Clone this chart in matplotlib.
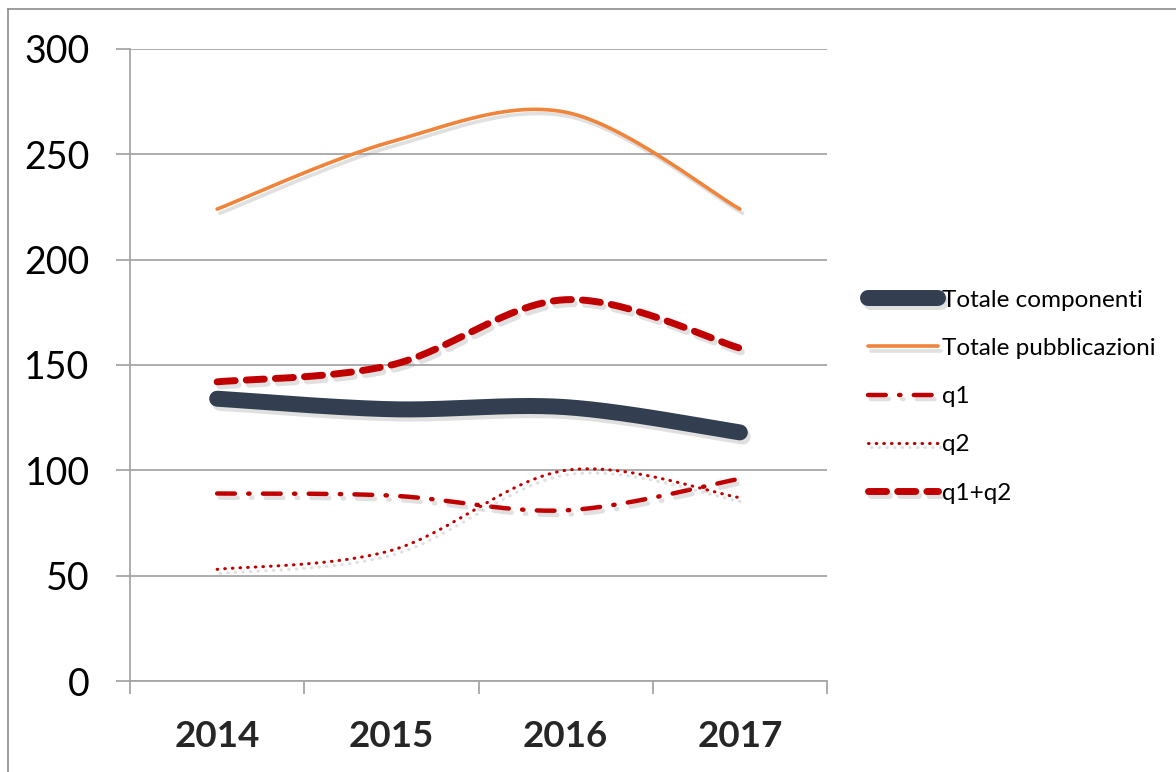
import numpy as np
import matplotlib
matplotlib.use("Agg")
import matplotlib.pyplot as plt
import matplotlib.patheffects as pe
from matplotlib.lines import Line2D

years = ["2014", "2015", "2016", "2017"]
totale_componenti = [134, 129, 130, 118]
totale_pubblicazioni = [224, 256, 270, 224]
q1 = [89, 88, 81, 96]
q2 = [53, 62, 100, 87]
q1_q2 = [142, 150, 181, 158]
y_ticks = [0, 50, 100, 150, 200, 250, 300]

plt.rcParams['font.family'] = ['Lato', 'DejaVu Sans']

def smooth(xs, ys, n=60):
    xs = np.asarray(xs, float); ys = np.asarray(ys, float)
    k = len(xs)
    mx = np.zeros(k); my = np.zeros(k)
    for i in range(k):
        a = max(i - 1, 0); b = min(i + 1, k - 1)
        mx[i] = (xs[b] - xs[a]) / 2.0
        my[i] = (ys[b] - ys[a]) / 2.0
    ox, oy = [], []
    t = np.linspace(0, 1, n)
    h00 = 2*t**3 - 3*t**2 + 1; h10 = t**3 - 2*t**2 + t
    h01 = -2*t**3 + 3*t**2; h11 = t**3 - t**2
    for i in range(k - 1):
        ox.append(h00*xs[i] + h10*mx[i] + h01*xs[i+1] + h11*mx[i+1])
        oy.append(h00*ys[i] + h10*my[i] + h01*ys[i+1] + h11*my[i+1])
    return np.concatenate(ox), np.concatenate(oy)

fig = plt.figure(figsize=(11.76, 7.72), dpi=100)
ax = fig.add_axes([130/1176, 1 - 681/772, (827-130)/1176, (681-49)/772])

xpos = np.arange(len(years)) + 0.5
shadow = [pe.SimpleLineShadow(offset=(2, -3), shadow_color='#909090', alpha=0.28), pe.Normal()]

series = [
    ("Totale componenti", totale_componenti, dict(color='#333f50', lw=11.5, ls='-', solid_capstyle='round')),
    ("Totale pubblicazioni", totale_pubblicazioni, dict(color='#f0843a', lw=2.6, ls='-', solid_capstyle='round')),
    ("q1", q1, dict(color='#c00000', lw=3.2, ls=(0, (4, 3, 0.3, 3)), dash_capstyle='round')),
    ("q2", q2, dict(color='#c00000', lw=2.2, ls=(0, (0.2, 2.3)), dash_capstyle='round')),
    ("q1+q2", q1_q2, dict(color='#c00000', lw=5, ls=(0, (2.6, 1.6)), dash_capstyle='round')),
]
handles = []
for name, vals, st in series:
    sx, sy = smooth(xpos, vals)
    ln, = ax.plot(sx, sy, label=name, zorder=3, path_effects=shadow, **st)
    handles.append(ln)

ax.set_xlim(0, 4)
ax.set_ylim(0, 300)
ax.set_yticks(y_ticks)
ax.grid(axis='y', color='#a6a6a6', lw=1.3)
ax.set_axisbelow(True)
for s in ['top', 'right']:
    ax.spines[s].set_visible(False)
for s in ['left', 'bottom']:
    ax.spines[s].set_color('#a6a6a6')
    ax.spines[s].set_linewidth(1.3)
ax.tick_params(axis='y', length=10, width=1.3, color='#a6a6a6', pad=19, labelsize=27)
ax.set_xticks([0, 1, 2, 3, 4])
ax.set_xticklabels([])
ax.set_xticks(xpos, minor=True)
ax.set_xticklabels(years, minor=True, fontsize=26.5, fontweight='bold', color='#262626')
ax.tick_params(axis='x', which='major', length=9, width=1.3, color='#a6a6a6')
ax.tick_params(axis='x', which='minor', length=0, pad=28)

leg = fig.legend(handles=handles, loc='upper left', bbox_to_anchor=(858/1176, 1 - 280/772),
                 frameon=False, fontsize=17.5, handlelength=2.9, handletextpad=0.15,
                 labelspacing=1.12, borderaxespad=0)

fig.add_artist(Line2D([8/1176, 1.0], [1 - 9/772, 1 - 9/772], transform=fig.transFigure, color='#8c8c8c', lw=1.2))
fig.add_artist(Line2D([8/1176, 8/1176], [0, 1 - 9/772], transform=fig.transFigure, color='#8c8c8c', lw=1.2))

fig.savefig("out.png", dpi=100, facecolor='white')
